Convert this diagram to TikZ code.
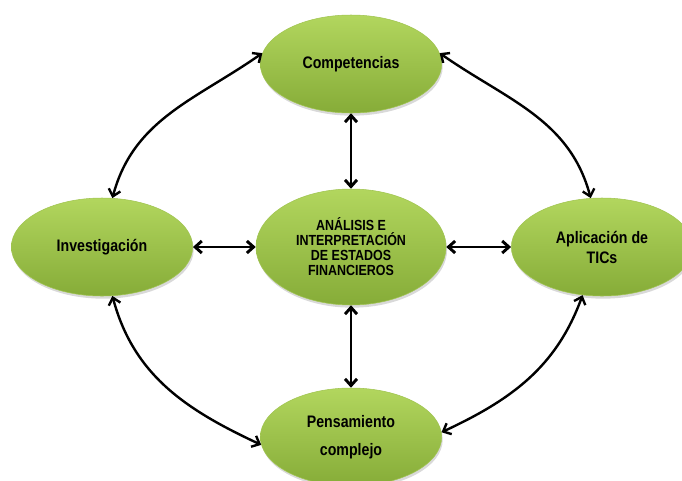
\documentclass[tikz,border=0pt]{standalone}
\usepackage{fontspec}
\usepackage{tikz}
\usetikzlibrary{arrows.meta, shapes.geometric, shadows}
\newfontfamily\nodefont{Liberation Sans}[FakeStretch=0.85]
\definecolor{greentop}{RGB}{178,214,94}
\definecolor{greenbot}{RGB}{134,172,56}
\definecolor{greenrim}{RGB}{160,196,80}
\tikzstyle{idea} = [ellipse, minimum width=136pt, minimum height=73.5pt, inner sep=0pt, align=center, top color=greentop, bottom color=greenbot, draw=greenrim, line width=0.4pt, drop shadow={opacity=0.3, shadow xshift=0.8pt, shadow yshift=-2pt}, font=\nodefont\bfseries\fontsize{12.5}{15}\selectfont]
\tikzstyle{arrow} = [line width=2.2pt,<->,>={Straight Barb[length=5pt,width=9pt]}]

\begin{document}
\begin{tikzpicture}[x=0.75pt, y=-0.75pt]
\useasboundingbox (0,0) rectangle (682,480);
\node (comp) [idea] at (351,64) {Competencias};
\node (ana) [idea, minimum width=142.5pt, minimum height=87pt, font=\nodefont\bfseries\fontsize{11}{11.25}\selectfont] at (351,247) {ANÁLISIS E\\INTERPRETACIÓN\\DE ESTADOS\\FINANCIEROS};
\node (inv) [idea] at (102,247) {Investigación};
\node (tics) [idea] at (602,247) {Aplicación de\\TICs};
\node (pens) [idea] at (351,437) {Pensamiento\\[6pt]complejo};
% flechas rectas
\draw [arrow] (comp) -- (ana);
\draw [arrow] (inv) -- (ana);
\draw [arrow] (ana) -- (tics);
\draw [arrow] (ana) -- (pens);
% flechas curvas
\draw [arrow, line width=1.8pt] (comp.173) to[out=215, in=75] (inv.78);
\draw [arrow, line width=1.8pt] (comp.7) to[out=-35, in=105] (tics.103);
\draw [arrow, line width=1.8pt] (inv.282) to[out=-75, in=155] (pens.185);
\draw [arrow, line width=1.8pt] (tics.248) to[out=250, in=25] (pens.3);
\end{tikzpicture}
\end{document}
